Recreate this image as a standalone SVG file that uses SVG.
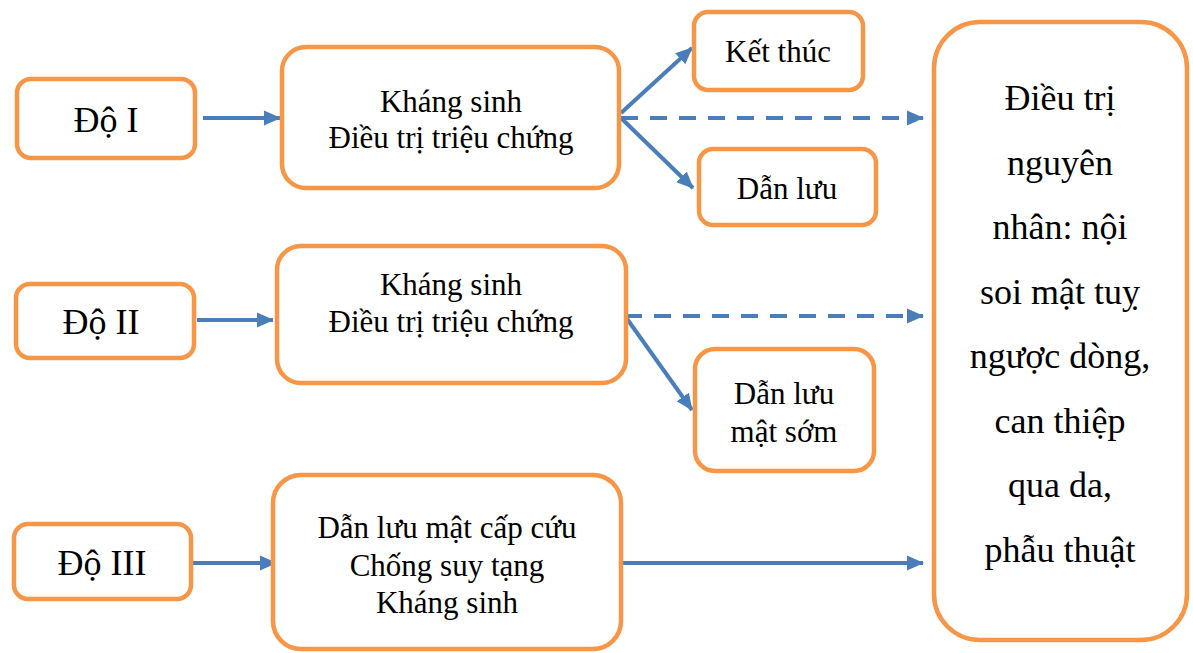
<svg xmlns="http://www.w3.org/2000/svg" width="1193" height="653" viewBox="0 0 1193 653">
<style>
.box{fill:#fff;stroke:#F79646;stroke-width:4.5}
.t{fill:#000;text-anchor:middle}
.s32{font-size:31px}
.s36{font-size:36px}
.c{stroke:#4A7EBB;stroke-width:4;fill:none}
.d{stroke-dasharray:17,12}
</style>
<defs>
<marker id="ah" markerUnits="userSpaceOnUse" markerWidth="18" markerHeight="18" viewBox="0 0 18 18" refX="16" refY="9" orient="auto">
<path d="M0,1.5 L17,9 L0,16.5 Z" fill="#4A7EBB"/>
</marker>
</defs>
<g id="connectors">
<line class="c" x1="203" y1="118" x2="280" y2="118" marker-end="url(#ah)"/>
<line class="c" x1="621" y1="113" x2="692" y2="48" marker-end="url(#ah)"/>
<line class="c" x1="621" y1="118" x2="693" y2="188" marker-end="url(#ah)"/>
<line class="c d" x1="621" y1="118" x2="923" y2="118" marker-end="url(#ah)"/>
<line class="c" x1="197" y1="320" x2="273" y2="320" marker-end="url(#ah)"/>
<line class="c d" x1="625" y1="316" x2="923" y2="316" marker-end="url(#ah)"/>
<line class="c" x1="625" y1="316" x2="692" y2="410" marker-end="url(#ah)"/>
<line class="c" x1="193" y1="563" x2="276" y2="563" marker-end="url(#ah)"/>
<line class="c" x1="623" y1="563" x2="923" y2="563" marker-end="url(#ah)"/>
</g>
<g font-family="Liberation Serif, DejaVu Serif, serif">
<g id="do1">
<rect class="box" x="17" y="79" width="178" height="79" rx="14"/>
<text class="t s36" x="106" y="132">Độ I</text>
</g>
<g id="ks1">
<rect class="box" x="282" y="47" width="337" height="141" rx="24"/>
<text class="t s32" x="451" y="112">Kháng sinh</text>
<text class="t s32" x="451" y="148">Điều trị triệu chứng</text>
</g>
<g id="ketthuc">
<rect class="box" x="694" y="12" width="169" height="78" rx="14"/>
<text class="t s32" x="778" y="62">Kết thúc</text>
</g>
<g id="danluu1">
<rect class="box" x="699" y="149" width="177" height="76" rx="14"/>
<text class="t s32" x="787" y="199">Dẫn lưu</text>
</g>
<g id="do2">
<rect class="box" x="16" y="284" width="178" height="74" rx="14"/>
<text class="t s36" x="101" y="334">Độ II</text>
</g>
<g id="ks2">
<rect class="box" x="277" y="246" width="349" height="137" rx="24"/>
<text class="t s32" x="451" y="295">Kháng sinh</text>
<text class="t s32" x="451" y="332">Điều trị triệu chứng</text>
</g>
<g id="danluu2">
<rect class="box" x="695" y="349" width="179" height="122" rx="20"/>
<text class="t s32" x="784" y="404">Dẫn lưu</text>
<text class="t s32" x="784" y="442">mật sớm</text>
</g>
<g id="do3">
<rect class="box" x="14" y="524" width="177" height="75" rx="14"/>
<text class="t s36" x="102" y="575">Độ III</text>
</g>
<g id="ks3">
<rect class="box" x="273" y="475" width="348" height="174" rx="28"/>
<text class="t s32" x="447" y="538">Dẫn lưu mật cấp cứu</text>
<text class="t s32" x="447" y="576">Chống suy tạng</text>
<text class="t s32" x="447" y="613">Kháng sinh</text>
</g>
<g id="dieutri">
<rect class="box" x="934" y="22" width="253" height="618" rx="46"/>
<text class="t s36" x="1060" y="110">Điều trị</text>
<text class="t s36" x="1060" y="174.5">nguyên</text>
<text class="t s36" x="1060" y="239">nhân: nội</text>
<text class="t s36" x="1060" y="303.5">soi mật tuỵ</text>
<text class="t s36" x="1060" y="368">ngược dòng,</text>
<text class="t s36" x="1060" y="432.5">can thiệp</text>
<text class="t s36" x="1060" y="497">qua da,</text>
<text class="t s36" x="1060" y="561.5">phẫu thuật</text>
</g>
</g>
</svg>
